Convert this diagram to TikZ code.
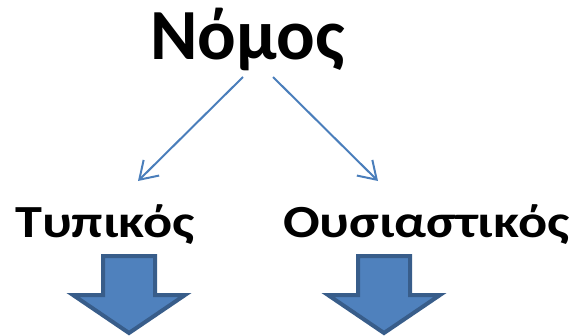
\documentclass[tikz,border=0pt]{standalone}
\usepackage{fontspec}
\setmainfont{Carlito}
\usetikzlibrary{arrows.meta}
\definecolor{linkblue}{HTML}{4A7EBB}
\definecolor{boxblue}{HTML}{4F81BD}
\definecolor{edgeblue}{HTML}{385D8A}

\begin{document}
\begin{tikzpicture}[x=1pt, y=-1pt,
    title/.style ={anchor=base west, inner sep=0pt, font=\bfseries\fontsize{72}{72}\selectfont},
    kind/.style ={anchor=base west, inner sep=0pt, xscale=1.18, font=\bfseries\fontsize{46}{46}\selectfont},
    link/.style ={draw=linkblue, line width=2pt, -{Straight Barb[length=17pt, width=22pt]}},
    bigarrow/.style ={fill=boxblue, draw=edgeblue, line width=4pt}]
   \useasboundingbox (0,0) rectangle (570,335);

   \node[title] (N)   at (150,59)  {Νόμος};
   \node[kind]  (T)   at (15,237)  {Τυπικός};
   \node[kind]  (O)   at (283,237) {Ουσιαστικός};

   \coordinate (N1) at (243,77);
   \coordinate (N2) at (273,77);
   \coordinate (T1) at (138,181);
   \coordinate (O1) at (378,181);

   \draw[link] (N1) to (T1);
   \draw[link] (N2) to (O1);

   \foreach \c in {129,384}
      \draw[bigarrow] (\c-26,256) -- (\c+26,256) -- (\c+26,295) -- (\c+56,295)
         -- (\c,333) -- (\c-56,295) -- (\c-26,295) -- cycle;
 \end{tikzpicture}
\end{document}
